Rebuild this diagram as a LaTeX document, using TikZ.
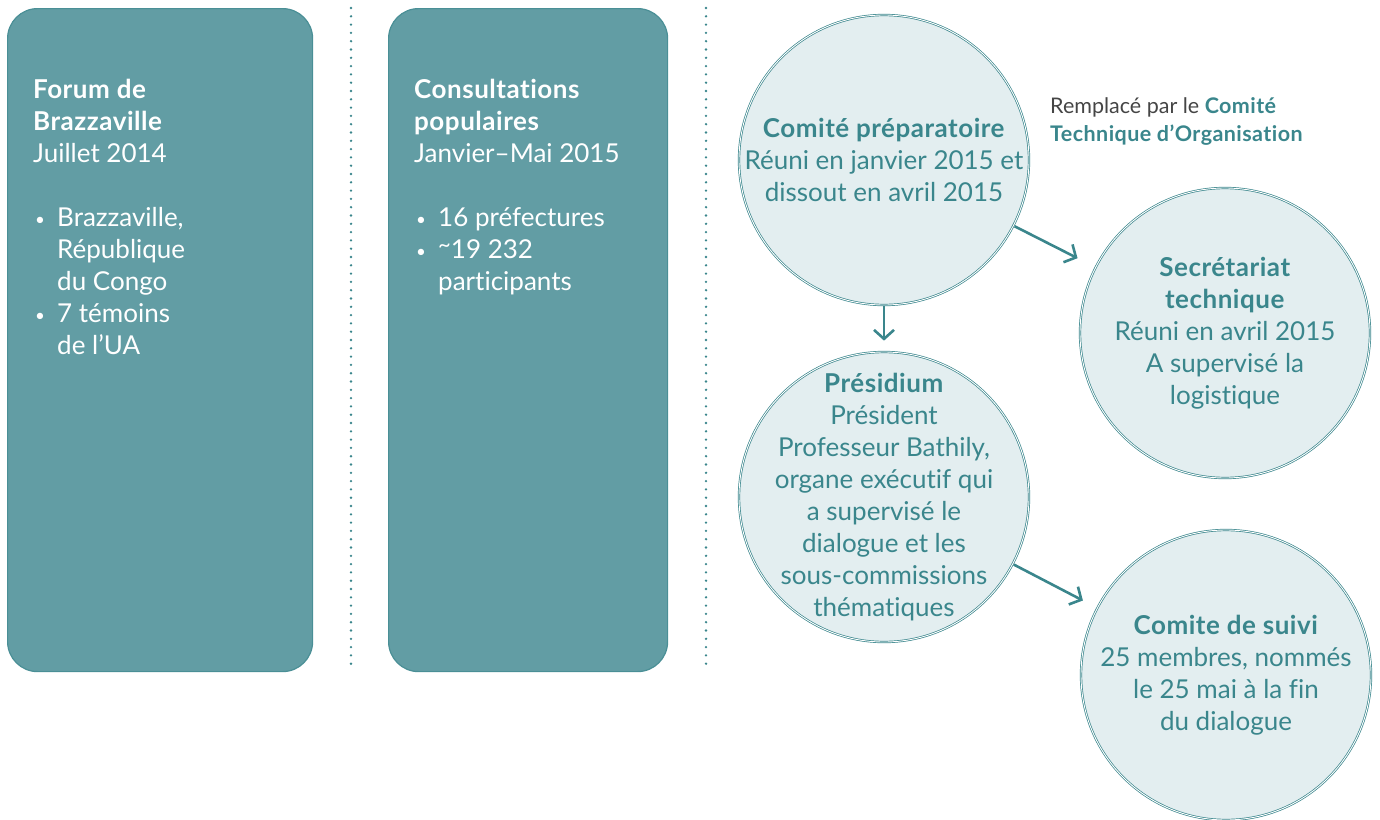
\documentclass[tikz,border=0pt]{standalone}
\usepackage{fontspec}
\setmainfont{Lato}[Ligatures=NoCommon, BoldFeatures={LetterSpace=2}]
\usetikzlibrary{arrows.meta,positioning}
\definecolor{boxfill}{HTML}{629DA4}
\definecolor{boxedge}{HTML}{4A8F96}
\definecolor{ringteal}{HTML}{3A868C}
\definecolor{ringfill}{HTML}{E3EEF0}
\definecolor{notegray}{HTML}{454545}
\newcommand{\bodysize}{\fontsize{26}{32}\selectfont}
\newcommand{\notesize}{\fontsize{21.5}{28}\selectfont}
\newcommand{\bul}{\makebox[24pt][l]{\hspace{2pt}\raisebox{1pt}{\fontsize{17}{17}\selectfont •}}}
\newcommand{\ind}{\hspace*{24pt}}
\newcommand{\approxsign}{\raisebox{6pt}{\fontsize{22}{22}\selectfont\textasciitilde}}
\tikzstyle{phase} = [draw=boxedge, line width=1.2pt, fill=boxfill, rounded corners=30pt, minimum height=663pt, anchor=north west, inner sep=0pt]
\tikzstyle{phasetext} = [anchor=base west, align=left, text=white, font=\bodysize, inner sep=0pt]
\tikzstyle{stage} = [circle, minimum size=290pt, inner sep=0pt, fill=ringfill, draw=ringteal, double=white, double distance=0.9pt, line width=0.7pt]
\tikzstyle{stagetext} = [text=ringteal, align=center, font=\bodysize, inner sep=0pt]
\tikzstyle{flow} = [draw=ringteal, line width=2.6pt, -{Straight Barb[length=9pt,width=20pt]}]
\tikzstyle{sep} = [draw=ringteal, line width=2.6pt, line cap=round, dash pattern=on 0pt off 8.3pt]

\begin{document}
\begin{tikzpicture}[x=1pt,y=-1pt]
	\useasboundingbox (0,0) rectangle (1380,819);
	% the two phase boxes
	\node[phase, minimum width=305pt] (forum) at (7,8) {};
	\node[phase, minimum width=279pt] (consult) at (388,8) {};
	\node[phasetext] (forumtxt) at (33,354) {\textbf{Forum de}\\ \textbf{Brazzaville}\\ Juillet 2014\\[32pt]
		\bul Brazzaville,\\ \ind République\\ \ind du Congo\\ \bul 7 témoins\\ \ind de l’UA};
	\node[phasetext] (consulttxt) at (414,290) {\textbf{Consultations}\\ \textbf{populaires}\\ Janvier–Mai 2015\\[32pt]
		\bul 16 préfectures\\ \bul \approxsign19 232\\ \ind participants};
	% dotted separators
	\draw[sep] (351,8) -- (351,671);
	\draw[sep] (706,8) -- (706,671);
	% dialogue bodies
	\node[stage, label={[stagetext]center:{\textbf{Comité préparatoire}\\ Réuni en janvier 2015 et\\ dissout en avril 2015}}] (prep) at (884,160) {};
	\node[stage, label={[stagetext]center:{\textbf{Présidium}\\ Président\\ Professeur Bathily,\\ organe exécutif qui\\ a supervisé le\\ dialogue et les\\ sous-commissions\\ thématiques}}] (presid) at (884,497) {};
	\node[stage, label={[stagetext]center:{\textbf{Secrétariat}\\ \textbf{technique}\\ Réuni en avril 2015\\ A supervisé la\\ logistique}}] (secr) at (1225,333) {};
	\node[stage, label={[stagetext]center:{\textbf{Comite de suivi}\\ 25 membres, nommés\\ le 25 mai à la fin\\ du dialogue}}] (suivi) at (1226,675) {};
	\node[anchor=base west, align=left, inner sep=0pt, font=\notesize, text=notegray] (remplace) at (1050,141)
		{Remplacé par le \textcolor{ringteal}{\textbf{Comité}}\\ \textcolor{ringteal}{\textbf{Technique d’Organisation}}};
	% arrows between bodies
	\draw[flow, shorten <=1pt, shorten >=20pt] (prep) -- (secr);
	\draw[flow, shorten <=1pt, shorten >=11pt] (prep) -- (presid);
	\draw[flow, shorten <=1pt, shorten >=16pt] (presid) -- (suivi);
\end{tikzpicture}
\end{document}
